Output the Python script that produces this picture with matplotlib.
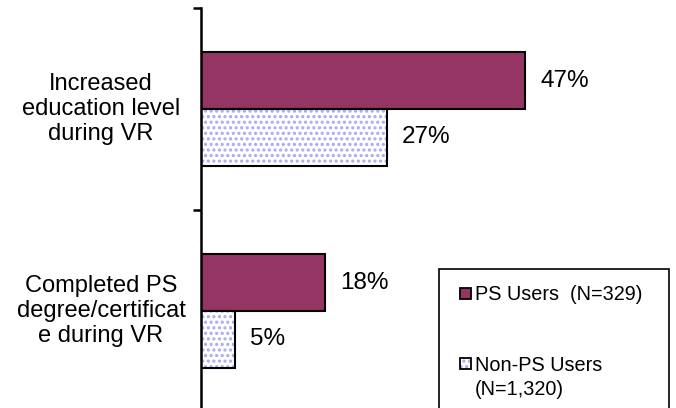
import matplotlib
matplotlib.use("Agg")
import matplotlib.pyplot as plt
import matplotlib.transforms as mtransforms
from matplotlib.patches import Rectangle
import numpy as np

plt.rcParams['font.family'] = ['Liberation Sans', 'DejaVu Sans']
plt.rcParams['hatch.linewidth'] = 1.5

categories = ["Increased\neducation level\nduring VR",
              "Completed PS\ndegree/certificat\ne during VR"]
ps_users = [47, 18]
non_ps_users = [27, 5]
series_labels = [["PS Users  (N=329)"], ["Non-PS Users", "(N=1,320)"]]

ps_color = "#953563"
dot_color = "#a8a8f0"

W, H = 676, 408
fig = plt.figure(figsize=(W / 100, H / 100), dpi=100)
ax_left, ax_right, ax_top, ax_bottom = 201, 670, 8, 412
ax = fig.add_axes([ax_left / W, 1 - ax_bottom / H,
                   (ax_right - ax_left) / W, (ax_bottom - ax_top) / H])

y = np.arange(len(categories))
h = 0.282

ax.barh(y - h / 2, ps_users, height=h, color=ps_color,
        edgecolor="black", linewidth=1.5)
# dotted fill, then a black outline on top
ax.barh(y + h / 2, non_ps_users, height=h, color="white",
        edgecolor=dot_color, hatch="...", linewidth=0)
ax.barh(y + h / 2, non_ps_users, height=h, fill=False,
        edgecolor="black", linewidth=1.5)

for yi, v in zip(y - h / 2, ps_users):
    ax.annotate(f"{v}%", (v, yi), xytext=(15, 0), textcoords="offset pixels",
                va="center", ha="left", fontsize=17.5)
for yi, v in zip(y + h / 2, non_ps_users):
    ax.annotate(f"{v}%", (v, yi), xytext=(15, 0), textcoords="offset pixels",
                va="center", ha="left", fontsize=17.5)

ax.set_xlim(0, 68)
ax.set_ylim(1.5, -0.5)
for s in ["top", "right", "bottom"]:
    ax.spines[s].set_visible(False)
ax.spines["left"].set_linewidth(1.8)
ax.set_xticks([])
ax.set_yticks([-0.5, 0.5, 1.5])
ax.set_yticklabels([])
ax.tick_params(axis="y", length=6, width=1.8, direction="out")

lab_tr = mtransforms.blended_transform_factory(ax.transAxes, ax.transData) + \
    mtransforms.ScaledTranslation(-100 / 100, 0, fig.dpi_scale_trans)
for yi, lab in zip(y, categories):
    ax.text(0, yi, lab, transform=lab_tr, ha="center", va="center",
            fontsize=17, linespacing=1.2, clip_on=False)

# legend, laid out in pixel units from the top-left of the figure
def px(x, yy):
    return x / W, 1 - yy / H

box_x0, box_x1, box_top = 439, 669, 269
fig.patches.append(Rectangle(px(box_x0, H + 10), (box_x1 - box_x0) / W,
                             (H + 10 - box_top) / H, transform=fig.transFigure,
                             fill=False, edgecolor="black", linewidth=1.2))

key_x, key_size, text_x = 460, 10.5, 475
entries = [
    dict(lines=series_labels[0], top=288, baseline=300,
         face=ps_color, hatch=None, hatch_color=None),
    dict(lines=series_labels[1], top=358, baseline=371,
         face="white", hatch="...", hatch_color=dot_color),
]
line_step = 24
for e in entries:
    if e["hatch"]:
        fig.patches.append(Rectangle(px(key_x, e["top"] + key_size), key_size / W,
                                     key_size / H, transform=fig.transFigure,
                                     facecolor=e["face"], edgecolor=e["hatch_color"],
                                     hatch=e["hatch"], linewidth=0))
        fig.patches.append(Rectangle(px(key_x, e["top"] + key_size), key_size / W,
                                     key_size / H, transform=fig.transFigure,
                                     fill=False, edgecolor="black", linewidth=1.3))
    else:
        fig.patches.append(Rectangle(px(key_x, e["top"] + key_size), key_size / W,
                                     key_size / H, transform=fig.transFigure,
                                     facecolor=e["face"], edgecolor="black",
                                     linewidth=1.3))
    for i, line in enumerate(e["lines"]):
        fig.text(*px(text_x, e["baseline"] + i * line_step), line,
                 fontsize=14.3, ha="left", va="baseline")

fig.savefig("out.png", dpi=100)
